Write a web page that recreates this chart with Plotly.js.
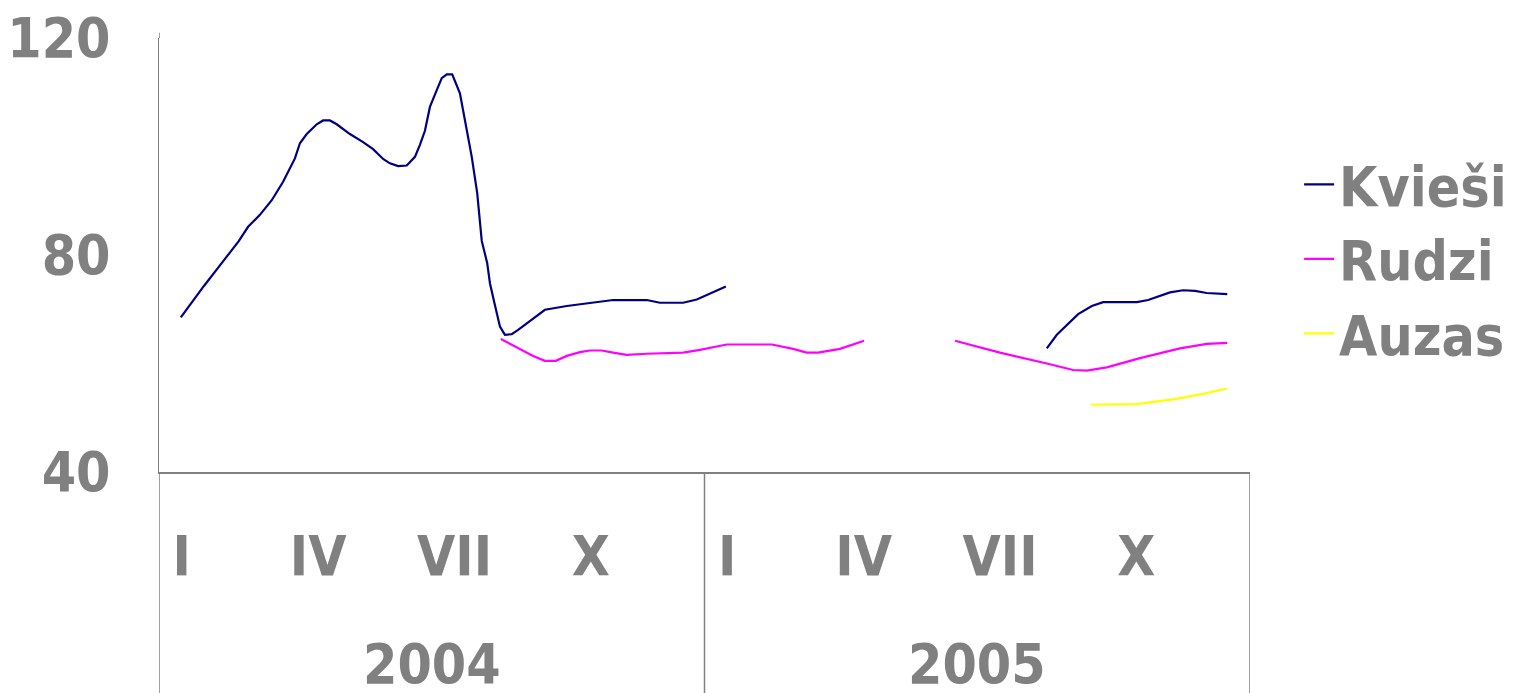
<!DOCTYPE html>
<html>
<head>
<meta charset="utf-8">
<script src="https://cdn.plot.ly/plotly-3.0.1.min.js"></script>
<style>html,body{margin:0;padding:0;background:#fff;}#chart{width:1515px;height:693px;}</style>
</head>
<body>
<div id="chart"></div>
<script>
// x positions are in months from the start of January 2004 (0..24)
const monthTickPos = [0.5, 3.5, 6.5, 9.5, 12.5, 15.5, 18.5, 21.5];
const monthTickText = ["I", "IV", "VII", "X", "I", "IV", "VII", "X"];
const yearLabels = ["2004", "2005"];
const yearCenters = [6, 18];
const yearBounds = [0, 12, 24];
const yTicks = [40, 80, 120];

const kviesiX = [0.48,0.98,1.49,1.75,1.96,2.22,2.48,2.73,2.99,3.10,3.25,3.47,3.61,3.76,3.91,4.20,4.49,4.71,4.93,5.08,5.26,5.45,5.63,5.74,5.85,5.96,6.11,6.22,6.33,6.45,6.62,6.73,6.88,7.00,7.10,7.22,7.28,7.38,7.50,7.61,7.76,7.90,8.09,8.27,8.49,8.97,9.48,9.99,10.73,11.02,11.53,11.83,12.47,
  null,
  19.53,19.75,20.22,20.52,20.77,21.51,21.76,22.24,22.53,22.79,23.05,23.50];
const kviesiY = [68.5,74.2,79.7,82.5,85.2,87.4,90.1,93.5,97.8,100.6,102.3,104.1,104.8,104.8,104.1,102.3,100.8,99.5,97.7,96.9,96.4,96.5,98.1,100.3,102.9,107.3,110.4,112.6,113.3,113.3,109.8,104.6,98.1,91.4,82.6,78.5,74.8,71.1,66.8,65.3,65.4,66.2,67.4,68.6,69.9,70.6,71.2,71.7,71.7,71.2,71.2,71.8,74.2,
  null,
  62.8,65.3,69.1,70.6,71.3,71.3,71.7,73.1,73.5,73.4,73.0,72.8];

const rudziX = [7.52,7.87,8.23,8.49,8.73,8.97,9.26,9.48,9.74,9.99,10.29,10.73,11.53,11.90,12.49,13.48,13.95,14.25,14.50,14.98,15.51,
  null,
  17.51,18.50,19.53,20.11,20.41,20.85,21.58,22.46,23.05,23.50];
const rudziY = [64.5,63.0,61.4,60.5,60.5,61.4,62.1,62.4,62.4,62.0,61.6,61.8,62.0,62.5,63.5,63.5,62.7,62.0,62.0,62.7,64.2,
  null,
  64.2,62.0,60.0,58.8,58.7,59.3,61.0,62.8,63.6,63.8];

const auzasX = [20.50,21.51,22.31,22.97,23.50];
const auzasY = [52.4,52.5,53.4,54.4,55.4];

const seriesNames = ["Kvieši", "Rudzi", "Auzas"];
const seriesColors = ["#000080", "#FF00FF", "#FFFF00"];

const FONT = "DejaVu Sans Condensed, DejaVu Sans, Verdana, sans-serif";
const GRAY = "#808080";

const traces = [
  {x: kviesiX, y: kviesiY},
  {x: rudziX, y: rudziY},
  {x: auzasX, y: auzasY}
].map((d, i) => ({
  type: "scatter", mode: "lines", x: d.x, y: d.y, name: seriesNames[i],
  connectgaps: false,
  line: {color: seriesColors[i], width: 2.2}
}));

const shapes = yearBounds.map(b => ({
  type: "line", xref: "x", yref: "paper", x0: b, x1: b, y0: 0, y1: -0.52,
  line: {color: GRAY, width: 1.5}
}));
shapes.push({
  type: "line", xref: "x", yref: "paper", x0: 0, x1: 0, y0: 1, y1: 1.012,
  line: {color: GRAY, width: 1.5}
});

const annotations = yearLabels.map((t, i) => ({
  text: t, xref: "x", yref: "paper", x: yearCenters[i], y: -0.443,
  xanchor: "center", yanchor: "middle", showarrow: false,
  font: {family: FONT, size: 55, color: GRAY, weight: "bold"}
}));

const layout = {
  width: 1515, height: 693,
  margin: {l: 159, r: 265, t: 38, b: 221, pad: 0, autoexpand: false},
  paper_bgcolor: "#fff", plot_bgcolor: "#fff",
  showlegend: true,
  legend: {
    x: 1.045, xanchor: "left", y: 0.76, yanchor: "top",
    font: {family: FONT, size: 55, color: GRAY, weight: "bold"},
    bgcolor: "rgba(0,0,0,0)", borderwidth: 0, tracegroupgap: 0
  },
  xaxis: {
    range: [0, 24], fixedrange: true, automargin: false,
    tickmode: "array", tickvals: monthTickPos, ticktext: monthTickText,
    ticks: "", showgrid: false, zeroline: false,
    showline: true, linecolor: GRAY, linewidth: 1.5,
    ticklabelstandoff: 35,
    tickfont: {family: FONT, size: 55, color: GRAY, weight: "bold"}
  },
  yaxis: {
    range: [40, 120], fixedrange: true, automargin: false,
    tickmode: "array", tickvals: yTicks,
    ticks: "", showgrid: false, zeroline: false,
    showline: true, linecolor: GRAY, linewidth: 1.5,
    ticklabelstandoff: 36,
    tickfont: {family: FONT, size: 55, color: GRAY, weight: "bold"}
  },
  shapes: shapes,
  annotations: annotations
};

Plotly.newPlot("chart", traces, layout, {displayModeBar: false, staticPlot: true});
</script>
</body>
</html>
